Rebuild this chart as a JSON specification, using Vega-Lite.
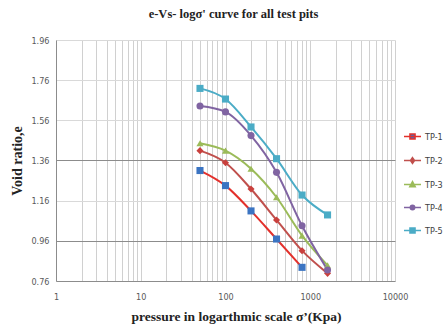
{
  "$schema": "https://vega.github.io/schema/vega-lite/v6.json",
  "width": 339,
  "height": 241,
  "autosize": "none",
  "padding": {"left": 56, "top": 40, "right": 53, "bottom": 48},
  "background": "white",
  "title": {
    "text": "e-Vs- logσ' curve for all test pits",
    "font": "Liberation Serif",
    "fontSize": 12.5,
    "fontWeight": "bold",
    "color": "#222222",
    "anchor": "middle",
    "offset": 16,
    "dx": 8
  },
  "config": {"view": {"stroke": null}},
  "data": {
    "values": [
      {"series": "TP-1", "p": 50, "e": 1.31},
      {"series": "TP-1", "p": 100, "e": 1.235},
      {"series": "TP-1", "p": 200, "e": 1.109},
      {"series": "TP-1", "p": 400, "e": 0.969},
      {"series": "TP-1", "p": 800, "e": 0.828},
      {"series": "TP-2", "p": 50, "e": 1.409},
      {"series": "TP-2", "p": 100, "e": 1.349},
      {"series": "TP-2", "p": 200, "e": 1.218},
      {"series": "TP-2", "p": 400, "e": 1.064},
      {"series": "TP-2", "p": 800, "e": 0.911},
      {"series": "TP-2", "p": 1600, "e": 0.798},
      {"series": "TP-3", "p": 50, "e": 1.446},
      {"series": "TP-3", "p": 100, "e": 1.409},
      {"series": "TP-3", "p": 200, "e": 1.319},
      {"series": "TP-3", "p": 400, "e": 1.177},
      {"series": "TP-3", "p": 800, "e": 0.986},
      {"series": "TP-3", "p": 1600, "e": 0.838},
      {"series": "TP-4", "p": 50, "e": 1.631},
      {"series": "TP-4", "p": 100, "e": 1.602},
      {"series": "TP-4", "p": 200, "e": 1.484},
      {"series": "TP-4", "p": 400, "e": 1.301},
      {"series": "TP-4", "p": 800, "e": 1.035},
      {"series": "TP-4", "p": 1600, "e": 0.815},
      {"series": "TP-5", "p": 50, "e": 1.719},
      {"series": "TP-5", "p": 100, "e": 1.666},
      {"series": "TP-5", "p": 200, "e": 1.527},
      {"series": "TP-5", "p": 400, "e": 1.369},
      {"series": "TP-5", "p": 800, "e": 1.188},
      {"series": "TP-5", "p": 1600, "e": 1.089}
    ]
  },
  "encoding": {
    "x": {
      "field": "p",
      "type": "quantitative",
      "scale": {"type": "log", "domain": [1, 10000]},
      "axis": {
        "title": "pressure in logarthmic scale σ’(Kpa)",
        "titleFont": "Liberation Serif",
        "titleFontSize": 13.5,
        "titleFontWeight": "bold",
        "titleColor": "#222222",
        "titlePadding": 8,
        "titleX": 180,
        "values": [1,2,3,4,5,6,7,8,9,10,20,30,40,50,60,70,80,90,100,200,300,400,500,600,700,800,900,1000,2000,3000,4000,5000,6000,7000,8000,9000,10000],
        "labelExpr": "indexof([1,10,100,1000,10000], datum.value) >= 0 ? format(datum.value, 'd') : ''",
        "labelFont": "Liberation Sans Narrow, DejaVu Sans Condensed, Liberation Sans",
        "labelFontSize": 9,
        "labelColor": "#595959",
        "labelPadding": 11,
        "labelOverlap": false,
        "labelFlush": false,
        "ticks": false,
        "domainColor": "#8c8c8c",
        "gridColor": "#d0d0d0",
        "gridWidth": 1
      }
    },
    "y": {
      "field": "e",
      "type": "quantitative",
      "scale": {"domain": [0.76, 1.96], "zero": false, "nice": false},
      "axis": {
        "title": "Void ratio,e",
        "titleFont": "Liberation Serif",
        "titleFontSize": 14,
        "titleFontWeight": "bold",
        "titleColor": "#222222",
        "titlePadding": 6,
        "values": [0.76, 0.96, 1.16, 1.36, 1.56, 1.76, 1.96],
        "format": ".2f",
        "labelFont": "Liberation Sans Narrow, DejaVu Sans Condensed, Liberation Sans",
        "labelFontSize": 9,
        "labelColor": "#595959",
        "labelPadding": 7,
        "labelFlush": false,
        "ticks": false,
        "domainColor": "#8c8c8c",
        "gridColor": {
          "condition": {"test": "abs(datum.value - 1.36) < 0.01 || abs(datum.value - 0.96) < 0.01", "value": "#8c8c8c"},
          "value": "#d9d9d9"
        },
        "gridWidth": 1
      }
    }
  },
  "resolve": {"scale": {"shape": "independent", "fill": "independent", "stroke": "independent"}},
  "layer": [
    {
      "mark": {"type": "line", "interpolate": "monotone", "strokeWidth": 2},
      "encoding": {
        "stroke": {
          "field": "series",
          "type": "nominal",
          "scale": {
            "domain": ["TP-1", "TP-2", "TP-3", "TP-4", "TP-5"],
            "range": ["#e3302b", "#c0504d", "#9bbb59", "#8064a2", "#4bacc6"]
          },
          "legend": null
        }
      }
    },
    {
      "mark": {"type": "point", "filled": true, "opacity": 1, "strokeWidth": 0, "size": 50},
      "encoding": {
        "fill": {
          "field": "series",
          "type": "nominal",
          "scale": {
            "domain": ["TP-1", "TP-2", "TP-3", "TP-4", "TP-5"],
            "range": ["#3b74c2", "#c9403d", "#9bbb59", "#8064a2", "#4bacc6"]
          },
          "legend": null
        },
        "shape": {
          "field": "series",
          "type": "nominal",
          "scale": {
            "domain": ["TP-1", "TP-2", "TP-3", "TP-4", "TP-5"],
            "range": ["square", "diamond", "triangle-up", "circle", "square"]
          },
          "legend": null
        }
      }
    },
    {
      "mark": {"type": "point", "filled": true, "opacity": 0, "strokeWidth": 1.5},
      "encoding": {
        "fill": {
          "field": "series",
          "type": "nominal",
          "scale": {
            "domain": ["TP-1", "TP-2", "TP-3", "TP-4", "TP-5"],
            "range": ["#3b74c2", "#c9403d", "#9bbb59", "#8064a2", "#4bacc6"]
          },
          "legend": {
            "orient": "none",
            "legendX": 347,
            "legendY": 87,
            "title": null,
            "padding": 0,
            "rowPadding": 8,
            "labelFont": "Liberation Sans Narrow, DejaVu Sans Condensed, Liberation Sans",
            "labelFontSize": 9,
            "labelColor": "#404040",
            "labelOffset": 3,
            "symbolSize": 289,
            "symbolStrokeWidth": 1.5,
            "symbolOpacity": 1
          }
        },
        "stroke": {
          "field": "series",
          "type": "nominal",
          "scale": {
            "domain": ["TP-1", "TP-2", "TP-3", "TP-4", "TP-5"],
            "range": ["#e3302b", "#c0504d", "#9bbb59", "#8064a2", "#4bacc6"]
          },
          "legend": {
            "orient": "none",
            "legendX": 347,
            "legendY": 87,
            "title": null,
            "padding": 0,
            "rowPadding": 8,
            "labelFont": "Liberation Sans Narrow, DejaVu Sans Condensed, Liberation Sans",
            "labelFontSize": 9,
            "labelColor": "#404040",
            "labelOffset": 3,
            "symbolSize": 289,
            "symbolStrokeWidth": 1.5,
            "symbolOpacity": 1
          }
        },
        "shape": {
          "field": "series",
          "type": "nominal",
          "scale": {
            "domain": ["TP-1", "TP-2", "TP-3", "TP-4", "TP-5"],
            "range": [
              "M-1,0H1M-0.3,-0.3H0.3V0.3H-0.3Z",
              "M-1,0H1M0,-0.34L0.24,0L0,0.34L-0.24,0Z",
              "M-1,0H1M0,-0.34L0.32,0.26H-0.32Z",
              "M-1,0H1M-0.26,0A0.26,0.26 0 1,0 0.26,0A0.26,0.26 0 1,0 -0.26,0Z",
              "M-1,0H1M-0.3,-0.3H0.3V0.3H-0.3Z"
            ]
          },
          "legend": {
            "orient": "none",
            "legendX": 347,
            "legendY": 87,
            "title": null,
            "padding": 0,
            "rowPadding": 8,
            "labelFont": "Liberation Sans Narrow, DejaVu Sans Condensed, Liberation Sans",
            "labelFontSize": 9,
            "labelColor": "#404040",
            "labelOffset": 3,
            "symbolSize": 289,
            "symbolStrokeWidth": 1.5,
            "symbolOpacity": 1
          }
        }
      }
    }
  ]
}
